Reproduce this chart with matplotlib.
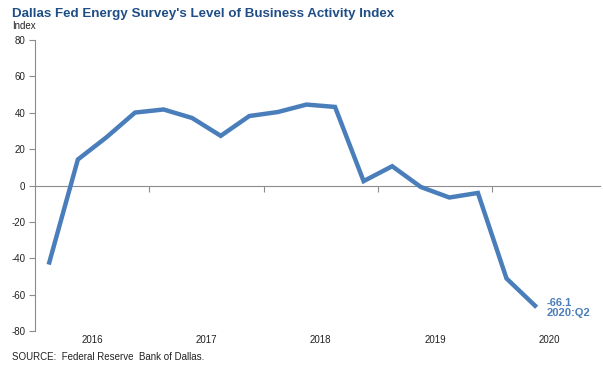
import matplotlib
matplotlib.use("Agg")
import matplotlib.pyplot as plt
import matplotlib.transforms as mtransforms

plt.rcParams['font.family'] = ['Liberation Sans', 'DejaVu Sans']

quarters = ["2016Q1", "2016Q2", "2016Q3", "2016Q4",
            "2017Q1", "2017Q2", "2017Q3", "2017Q4",
            "2018Q1", "2018Q2", "2018Q3", "2018Q4",
            "2019Q1", "2019Q2", "2019Q3", "2019Q4",
            "2020Q1", "2020Q2"]
values = [-42.3, 14.3, 26.5, 40.1, 41.8, 37.1, 27.3, 38.2,
          40.4, 44.5, 43.2, 2.4, 10.6, -0.8, -6.6, -4.1,
          -51.1, -66.1]
year_labels = ["2016", "2017", "2018", "2019", "2020"]
y_ticks = [-80, -60, -40, -20, 0, 20, 40, 60, 80]

line_color = "#4A7EBB"
title_color = "#1F4E86"
axis_color = "#8C8C8C"

x = [int(q[:4]) + (int(q[-1]) - 0.5) / 4 for q in quarters]

fig = plt.figure(figsize=(6.03, 3.75), dpi=100)
ax = fig.add_axes([35 / 603, 44 / 375, 565 / 603, 291 / 375])

ax.plot(x, values, color=line_color, lw=3.2, solid_joinstyle='miter', zorder=3)

ax.set_xlim(2016.0, 2016.0 + 565 / 114.3)
ax.set_ylim(-80, 80)
ax.set_yticks(y_ticks)
ax.set_yticklabels([str(v) for v in y_ticks], fontsize=7, color="#222222")

for s in ['top', 'right']:
    ax.spines[s].set_visible(False)
ax.spines['left'].set_color(axis_color)
ax.spines['left'].set_linewidth(0.8)
ax.spines['bottom'].set_position(('data', 0))
ax.spines['bottom'].set_color(axis_color)
ax.spines['bottom'].set_linewidth(0.8)

ax.tick_params(axis='y', direction='out', length=4, width=0.8, color=axis_color, pad=3)
ax.set_xticks([2017, 2018, 2019, 2020])
ax.set_xticklabels([])
ax.tick_params(axis='x', direction='out', length=4, width=0.8, color=axis_color)

trans = mtransforms.blended_transform_factory(ax.transData, ax.transAxes)
for i, yl in enumerate(year_labels):
    yr = int(yl)
    ax.text(yr + 0.5, -0.03, yl, transform=trans, ha='center', va='center',
            fontsize=7, color="#222222")

ax.annotate(f"{values[-1]}\n2020:Q2", xy=(x[-1], values[-1]),
            xytext=(8.6, -1.8), textcoords='offset points', ha='left', va='center',
            fontsize=8, fontweight='bold', color=line_color, linespacing=1.05)

fig.text(12 / 603, 1 - 14 / 375, "Dallas Fed Energy Survey's Level of Business Activity Index",
         fontsize=9.6, fontweight='bold', color=title_color, ha='left', va='center')
fig.text(12 / 603, 1 - 26 / 375, "Index", fontsize=7, color="#222222",
         ha='left', va='center')
fig.text(12 / 603, 1 - 357 / 375, "SOURCE:  Federal Reserve  Bank of Dallas.",
         fontsize=7, color="#222222", ha='left', va='center')

fig.savefig("out.png", dpi=100)
